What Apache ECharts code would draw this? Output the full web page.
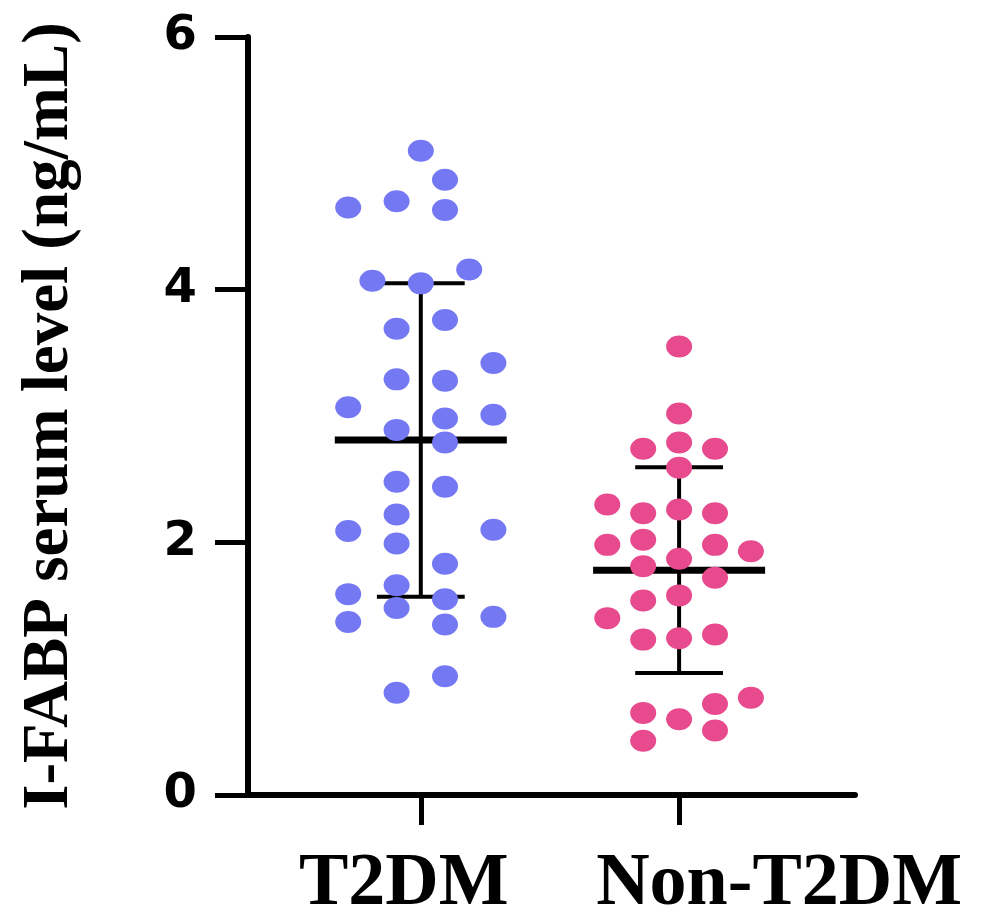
<!DOCTYPE html>
<html>
<head>
<meta charset="utf-8">
<script src="https://cdn.jsdelivr.net/npm/echarts@6/dist/echarts.min.js"></script>
<style>
  html, body { margin: 0; padding: 0; background: #fff; }
  #chart { width: 984px; height: 922px; }
</style>
</head>
<body>
<div id="chart"></div>
<script>
// groups on the x axis (positions 1 and 2)
const groups = ["T2DM", "Non-T2DM"]
const yTicks = [0, 2, 4, 6]

// I-FABP values (ng/mL), with the jitter lane each dot sits in
const t2dmValues = [5.10, 4.87, 4.65, 4.70, 4.63, 4.07, 4.05, 4.16, 3.69, 3.76, 3.42, 3.29, 3.28, 3.07, 2.98, 3.01, 2.89,
  2.79, 2.48, 2.44, 2.22, 2.09, 2.10, 1.99, 1.83, 1.66, 1.59, 1.55, 1.48, 1.37, 1.35, 1.41, 0.94, 0.81]
const t2dmLanes = [0, 1, -3, -1, 1, -2, 0, 2, -1, 1, 3, -1, 1, -3, 1, 3, -1,
  1, -1, 1, -1, -3, 3, -1, 1, -1, -3, 1, -1, -3, 1, 3, 1, -1]

const nonValues = [3.55, 3.02, 2.74, 2.79, 2.74, 2.59, 2.30, 2.23, 2.26, 2.23, 1.98, 2.02, 1.98, 1.93, 1.81,
  1.87, 1.72, 1.54, 1.58, 1.40, 1.23, 1.24, 1.27, 0.65, 0.60, 0.72, 0.77, 0.43, 0.51]
const nonLanes = [0, 0, -1, 0, 1, 0, -2, -1, 0, 1, -2, -1, 1, 2, -1,
  0, 1, -1, 0, -2, -1, 0, 1, -1, 0, 1, 2, -1, 1]

// mean ± SD bars
const means = [2.81, 1.78]
const sds = [1.24, 0.815]

const laneStep = [0.0937, 0.139]   // horizontal spacing of jitter lanes per group
const meanHalf = 0.333, capHalf = 0.17

function toPoints(values, lanes, gi) {
  return values.map((v, i) => [gi + 1 + lanes[i] * laneStep[gi], v])
}

const chart = echarts.init(document.getElementById("chart"))

// mean line + SD whisker with caps, drawn through the axes
function renderBar(params, api) {
  const x = api.value(0), m = api.value(1), sd = api.value(2)
  const pMl = api.coord([x - meanHalf, m]), pMr = api.coord([x + meanHalf, m])
  const pTop = api.coord([x, m + sd]), pBot = api.coord([x, m - sd])
  const cTl = api.coord([x - capHalf, m + sd]), cTr = api.coord([x + capHalf, m + sd])
  const cBl = api.coord([x - capHalf, m - sd]), cBr = api.coord([x + capHalf, m - sd])
  const line = (a, b, w) => ({
    type: "line",
    shape: { x1: a[0], y1: a[1], x2: b[0], y2: b[1] },
    style: { stroke: "#000", lineWidth: w }
  })
  return {
    type: "group",
    children: [
      line(pTop, pBot, 4),
      line(cTl, cTr, 4),
      line(cBl, cBr, 4),
      line(pMl, pMr, 7)
    ]
  }
}

chart.setOption({
  animation: false,
  backgroundColor: "#fff",
  grid: { left: 248, right: 129, top: 37, bottom: 120, containLabel: false },
  xAxis: {
    type: "value",
    min: 0.331, max: 2.681,
    splitLine: { show: false },
    axisLine: { show: true, onZero: false, lineStyle: { color: "#000", width: 6 } },
    axisTick: { show: true, customValues: [1, 2], length: 30, lineStyle: { color: "#000", width: 5 } },
    axisLabel: {
      customValues: [1, 2],
      margin: 53,
      formatter: v => (v === 1 ? "{a|" + groups[0] + "}" : "{b|" + groups[1] + "}"),
      rich: {
        a: { fontFamily: "Liberation Serif", fontWeight: "bold", fontSize: 74, color: "#000", padding: [0, 34, 0, 0] },
        b: { fontFamily: "Liberation Serif", fontWeight: "bold", fontSize: 74, color: "#000", padding: [0, 0, 0, 200] }
      }
    }
  },
  yAxis: {
    type: "value",
    min: yTicks[0], max: yTicks[yTicks.length - 1], interval: 2,
    splitLine: { show: false },
    axisLine: { show: true, lineStyle: { color: "#000", width: 6 } },
    axisTick: { show: true, length: 33, lineStyle: { color: "#000", width: 5 } },
    axisLabel: {
      margin: 51,
      color: "#000",
      fontFamily: "DejaVu Sans",
      fontWeight: "bold",
      fontSize: 48
    },
    name: "I-FABP serum level (ng/mL)",
    nameLocation: "middle",
    nameGap: 165,
    nameTextStyle: { fontFamily: "Liberation Serif", fontWeight: "bold", fontSize: 65, color: "#000" }
  },
  series: [
    {
      type: "custom",
      z: 1,
      renderItem: renderBar,
      data: means.map((m, i) => [i + 1, m, sds[i]])
    },
    {
      name: groups[0],
      type: "scatter",
      z: 3,
      symbol: "circle",
      symbolSize: [26, 22],
      itemStyle: { color: "#7478F2", opacity: 1 },
      data: toPoints(t2dmValues, t2dmLanes, 0)
    },
    {
      name: groups[1],
      type: "scatter",
      z: 3,
      symbol: "circle",
      symbolSize: [26, 22],
      itemStyle: { color: "#E84A8E", opacity: 1 },
      data: toPoints(nonValues, nonLanes, 1)
    }
  ]
})
</script>
</body>
</html>
